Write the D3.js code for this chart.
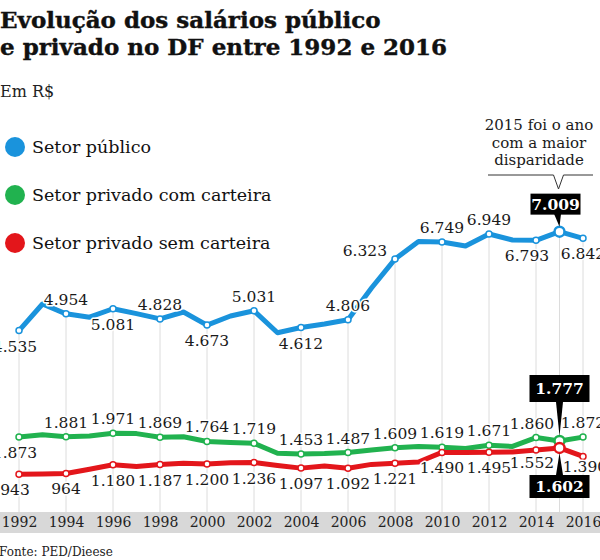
<!DOCTYPE html>
<html>
<head>
<meta charset="utf-8">
<script src="https://cdn.jsdelivr.net/npm/d3@7/dist/d3.min.js"></script>
<style>
  html, body { margin: 0; padding: 0; background: #fff; }
  svg { display: block; }
  text { font-family: "DejaVu Serif", "Liberation Serif", serif; }
</style>
</head>
<body>
<svg id="chart" width="600" height="560"></svg>
<script>
// ---- Data ----
const years = [1992,1993,1994,1995,1996,1997,1998,1999,2000,2001,2002,2003,2004,
               2005,2006,2007,2008,2009,2010,2011,2012,2013,2014,2015,2016];
const publico = [4535,5200,4954,4870,5081,4960,4828,5000,4673,4900,5031,4480,4612,
                 4700,4806,5600,6323,6760,6749,6650,6949,6800,6793,7009,6842];
const privadoCom = [1873,1930,1881,1900,1971,1960,1869,1880,1764,1735,1719,1470,1453,
                    1460,1487,1550,1609,1640,1619,1590,1671,1640,1860,1777,1872];
const privadoSem = [943,950,964,1070,1180,1140,1187,1220,1200,1230,1236,1160,1097,
                    1150,1092,1190,1221,1250,1490,1490,1495,1500,1552,1602,1390];
const labeledYears = [1992,1994,1996,1998,2000,2002,2004,2006,2008,2010,2012,2014,2015,2016];
const tickYears = [1992,1994,1996,1998,2000,2002,2004,2006,2008,2010,2012,2014,2016];
const highlightYear = 2015;
const seriesNames = ["Setor público", "Setor privado com carteira", "Setor privado sem carteira"];
const titleLines = ["Evolução dos salários público", "e privado no DF entre 1992 e 2016"];
const unitText = "Em R$";
const annotationLines = ["2015 foi o ano", "com a maior", "disparidade"];
const sourceText = "Fonte: PED/Dieese";

// ---- Setup ----
const svg = d3.select("#chart");
const W = 600, H = 560;
const colors = ["#1a93dc", "#21b24f", "#e3161b"];
const ptBR = d3.formatLocale({decimal: ",", thousands: ".", grouping: [3], currency: ["R$", ""]});
const fmt = ptBR.format(",d");

const x = d3.scaleLinear().domain([1992, 2016]).range([19, 583]);
const y = d3.scaleLinear().domain([0, 8000]).range([512, 192]);

const series = [publico, privadoCom, privadoSem].map((vals, i) => ({
  name: seriesNames[i], color: colors[i],
  pts: years.map((yr, j) => ({year: yr, v: vals[j]}))
}));

// Title
svg.append("g").selectAll("text").data(titleLines).join("text")
  .attr("x", 0).attr("y", (d, i) => 28 + i * 27)
  .attr("font-size", 23).attr("font-weight", "bold").attr("fill", "#111")
  .attr("stroke", "#111").attr("stroke-width", 0.4)
  .text(d => d);
svg.append("text").attr("x", 0).attr("y", 97).attr("font-size", 16).attr("fill", "#222").text(unitText);

// Legend
const leg = svg.append("g").selectAll("g").data(series).join("g")
  .attr("transform", (d, i) => `translate(15,${147 + i * 48})`);
leg.append("circle").attr("r", 10).attr("fill", d => d.color);
leg.append("text").attr("x", 17).attr("y", 6).attr("font-size", 17.5).attr("fill", "#111").text(d => d.name);

// Axis band
svg.append("rect").attr("x", 0).attr("y", 512).attr("width", W).attr("height", 21).attr("fill", "#d8d8d8");
const axis = d3.axisBottom(x).tickValues(tickYears).tickFormat(d3.format("d")).tickSize(0).tickPadding(0);
const ax = svg.append("g").attr("transform", "translate(0,512)").call(axis);
ax.select(".domain").remove();
ax.selectAll("text").attr("font-family", "DejaVu Serif, serif").attr("font-size", 14)
  .attr("fill", "#222").attr("dy", "1.05em");

// Gridlines (from public point down to axis)
svg.append("g").selectAll("line").data(labeledYears).join("line")
  .attr("x1", d => x(d)).attr("x2", d => x(d))
  .attr("y1", d => y(publico[years.indexOf(d)]))
  .attr("y2", 512)
  .attr("stroke", "#dcdcdc").attr("stroke-width", 1);

// Lines
const line = d3.line().x(d => x(d.year)).y(d => y(d.v)).curve(d3.curveLinear);
svg.append("g").selectAll("path").data(series).join("path")
  .attr("d", d => line(d.pts)).attr("fill", "none")
  .attr("stroke", d => d.color).attr("stroke-width", 5)
  .attr("stroke-linejoin", "round").attr("stroke-linecap", "round");

// Dots
series.forEach(s => {
  svg.append("g").selectAll("circle")
    .data(s.pts.filter(p => labeledYears.includes(p.year))).join("circle")
    .attr("cx", d => x(d.year)).attr("cy", d => y(d.v))
    .attr("r", d => d.year === highlightYear ? 5 : 3)
    .attr("fill", "#fff").attr("stroke", s.color).attr("stroke-width", d => d.year === highlightYear ? 2.5 : 1.5);
});

// Labels
const labG = svg.append("g");
function addLabel(px, py, txt, anchor) {
  labG.append("text").attr("x", px).attr("y", py).attr("text-anchor", anchor || "middle")
    .attr("font-size", 15.5).attr("fill", "#1a1a1a")
    .attr("stroke", "#fff").attr("stroke-width", 3).attr("paint-order", "stroke")
    .attr("stroke-linejoin", "round")
    .text(txt);
}
const pubBelow = [1992, 1996, 2000, 2004, 2014, 2016];
labeledYears.forEach(yr => {
  if (yr === highlightYear) return;
  const i = years.indexOf(yr);
  const cx = yr === 1992 ? x(yr) - 4 : x(yr);
  // public
  const pv = publico[i];
  if (yr === 2008) addLabel(x(yr) - 8, y(pv) - 3, fmt(pv), "end");
  else if (pubBelow.includes(yr)) addLabel(yr === 2014 ? cx - 9 : cx, y(pv) + 21, fmt(pv));
  else addLabel(cx, y(pv) - 9, fmt(pv));
  // com carteira
  const gv = privadoCom[i];
  if (yr === 1992) addLabel(cx, y(gv) + 21, fmt(gv));
  else addLabel(yr === 2014 ? cx - 4 : cx, y(gv) - 9, fmt(gv));
  // sem carteira
  const rv = privadoSem[i];
  if (yr === 2014) addLabel(cx - 4, y(rv) + 18, fmt(rv));
  else if (yr === 2016) addLabel(cx + 2, y(rv) + 16, fmt(rv));
  else addLabel(cx, y(rv) + 21, fmt(rv));
});

// Highlight boxes
const hi = years.indexOf(highlightYear);
const hx = x(highlightYear);
function box(cx, top, w, h, txt) {
  svg.append("rect").attr("x", cx - w / 2).attr("y", top).attr("width", w).attr("height", h).attr("fill", "#000");
  svg.append("text").attr("x", cx).attr("y", top + h / 2 + 5.5).attr("text-anchor", "middle")
    .attr("font-size", 15.5).attr("font-weight", "bold").attr("fill", "#fff").text(txt);
}
function pointer(x0, y0, x1, y1) {
  svg.append("path").attr("d", `M${x0 - 3.5},${y0} L${x0 + 3.5},${y0} L${x1},${y1} Z`).attr("fill", "#000");
}
// public 2015
const pY = y(publico[hi]);
pointer(hx - 2, pY - 18, hx, pY - 5);
box(hx - 4, pY - 38, 50, 21, fmt(publico[hi]));
// com carteira 2015
const gY = y(privadoCom[hi]);
pointer(hx, 402, hx, gY - 5);
box(hx, 375, 60, 27, fmt(privadoCom[hi]));
// sem carteira 2015
const rY = y(privadoSem[hi]);
pointer(hx, 475, hx, rY + 5);
box(hx, 475, 60, 23, fmt(privadoSem[hi]));

// Annotation
svg.append("g").selectAll("text").data(annotationLines).join("text")
  .attr("x", 539).attr("y", (d, i) => 130 + i * 17.5).attr("text-anchor", "middle")
  .attr("font-size", 15).attr("fill", "#1a1a1a").text(d => d);
svg.append("path").attr("d", `M488,175 H${hx - 6} L${hx - 1},189 L${hx + 4},175 H593`)
  .attr("fill", "none").attr("stroke", "#333").attr("stroke-width", 1);

// Source
svg.append("text").attr("x", -1).attr("y", 556).attr("font-size", 12).attr("fill", "#222").text(sourceText);
</script>
</body>
</html>
